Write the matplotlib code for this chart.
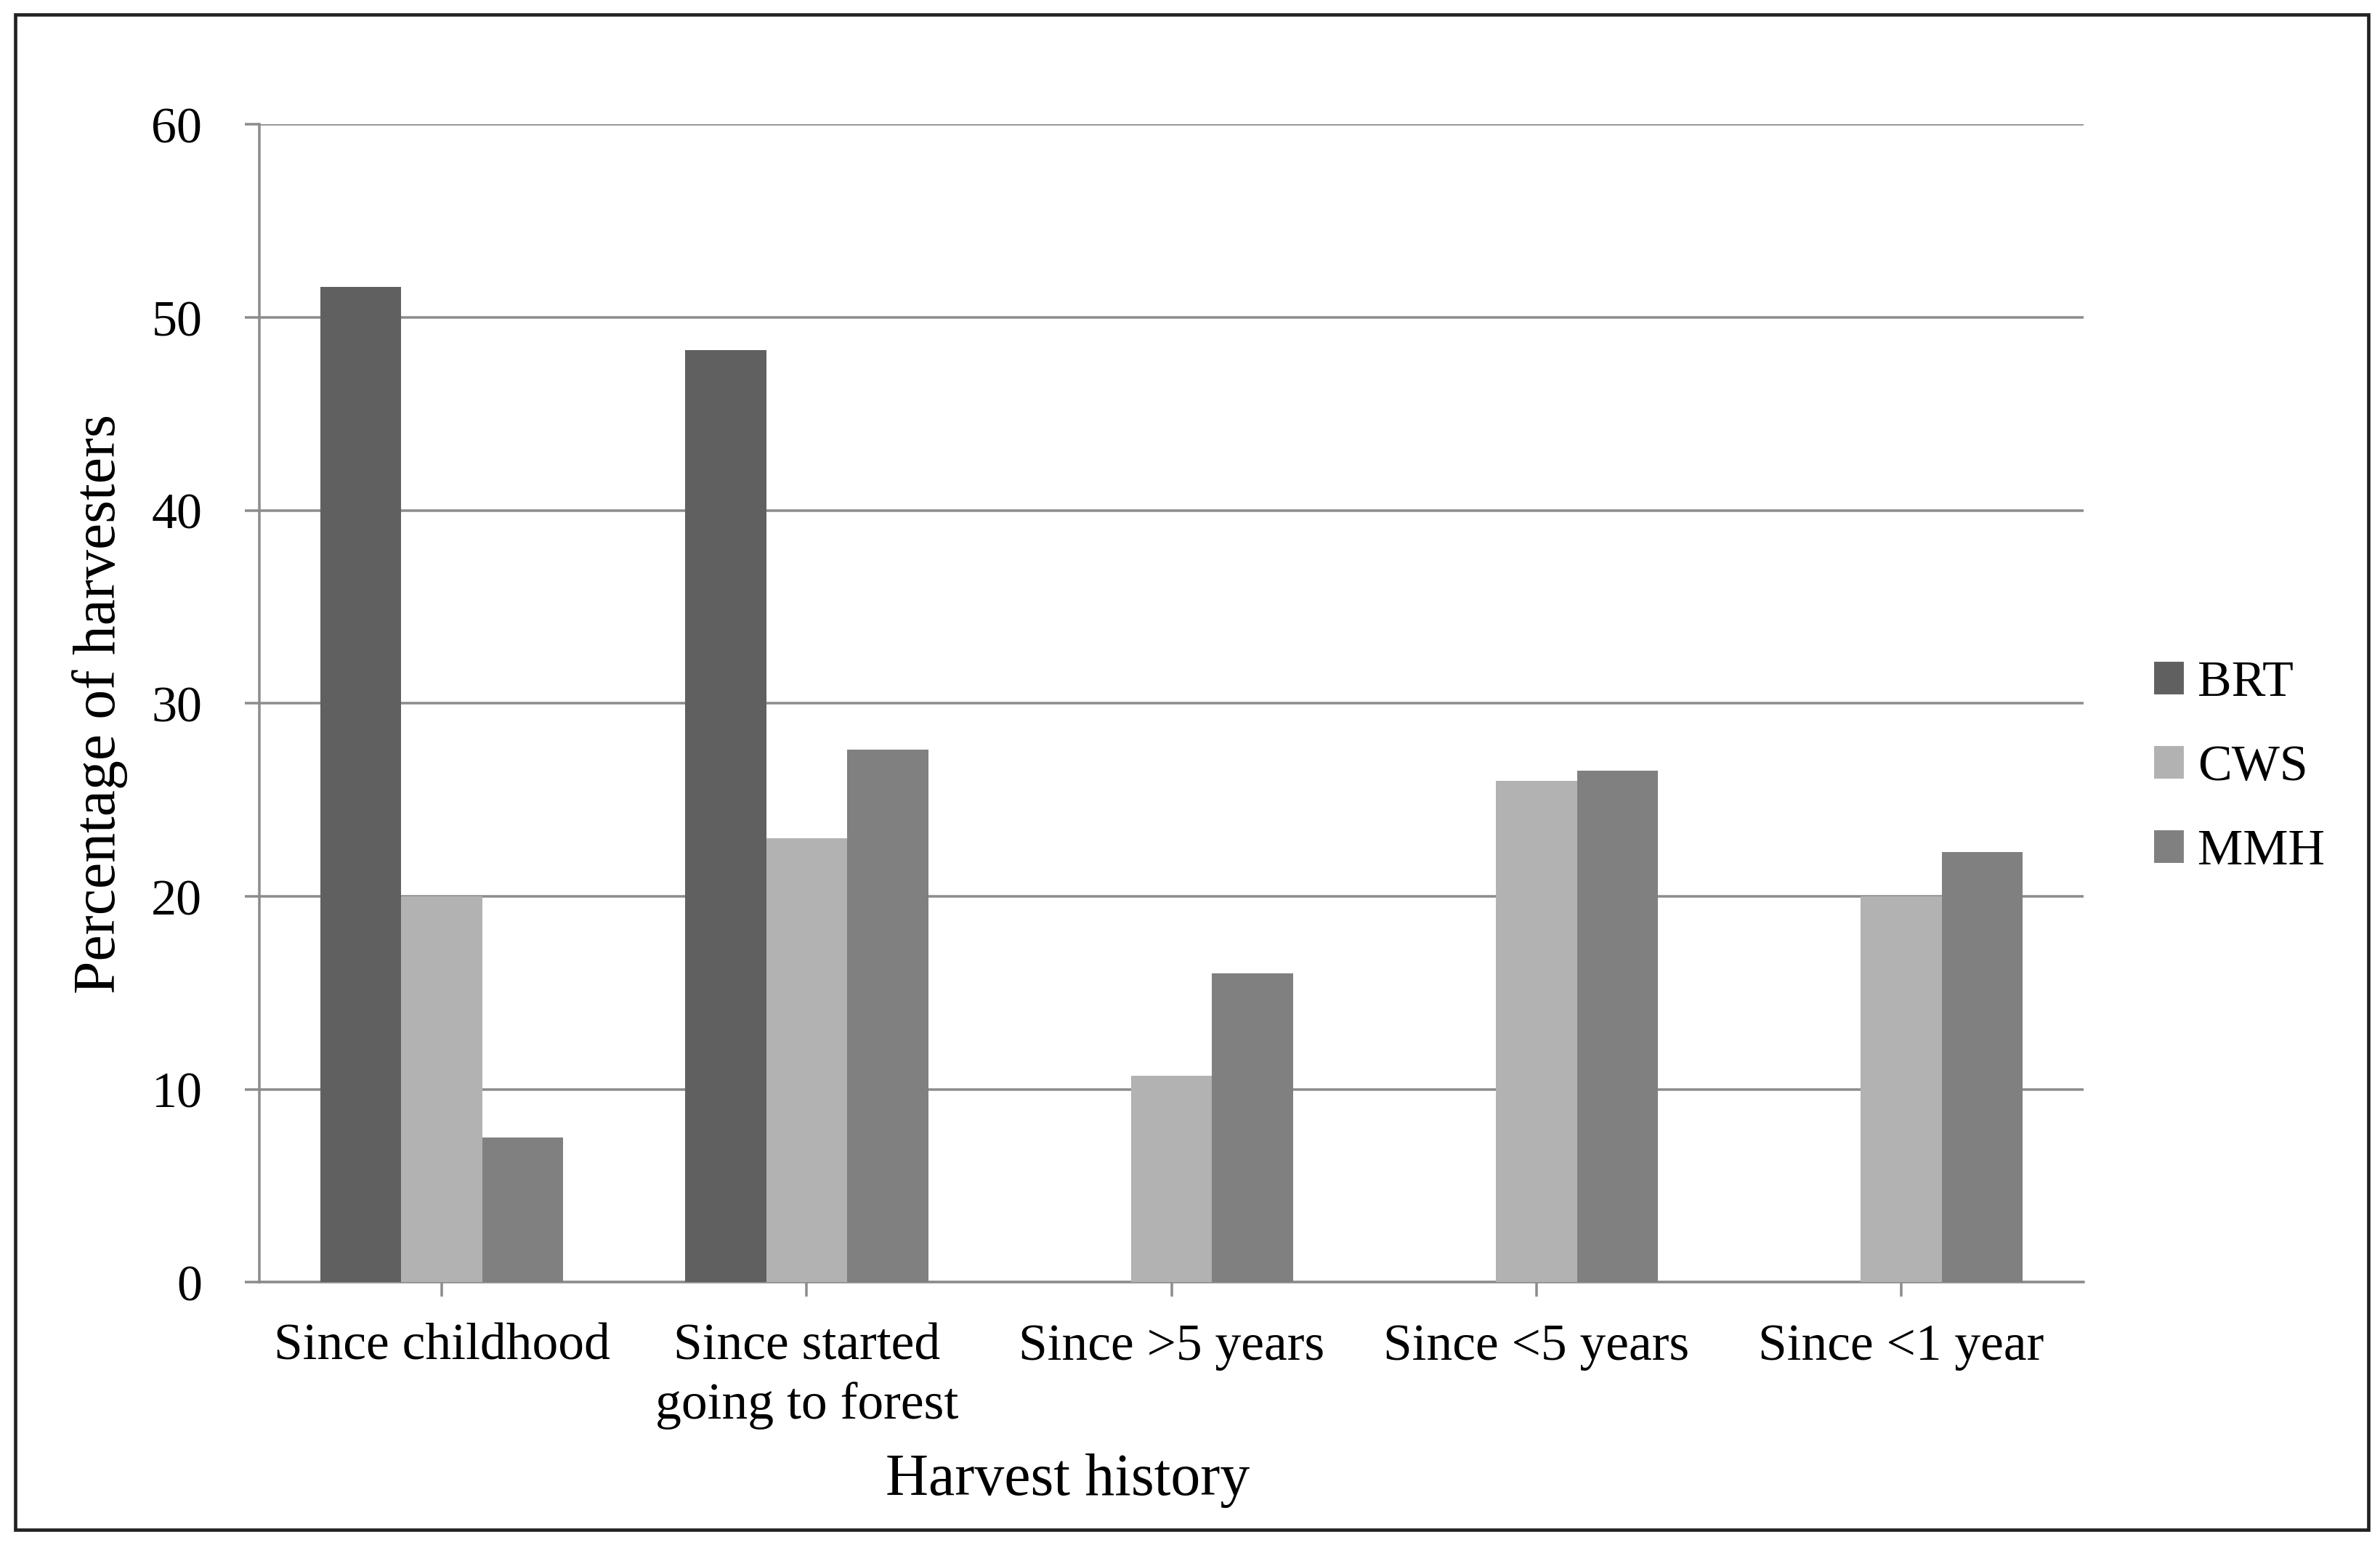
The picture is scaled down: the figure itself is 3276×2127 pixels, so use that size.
#!/usr/bin/env python3
"""
plot.py: harvest history of harvesters, grouped bars per site
"""

import numpy as np
import matplotlib
matplotlib.use("Agg")
import matplotlib.pyplot as plt
from matplotlib.patches import Rectangle, Patch

# Categories along the x axis
categories = ["Since childhood", "Since started\ngoing to forest",
              "Since >5 years", "Since <5 years", "Since <1 year"]
# Percentage of harvesters per site
brt = [51.6, 48.3, 0, 0, 0]
cws = [20.0, 23.0, 10.7, 26.0, 20.0]
mmh = [7.5, 27.6, 16.0, 26.5, 22.3]
series_names = ["BRT", "CWS", "MMH"]
yticks = [0, 10, 20, 30, 40, 50, 60]


def main():
    plt.rcParams['font.family'] = ['Liberation Serif', 'DejaVu Serif']

    fig = plt.figure(figsize=(15.6, 10.1333), dpi=210)
    ax = fig.add_axes([0.109, 0.170, 0.7665, 0.749])

    colors = ["#606060", "#b2b2b2", "#808080"]
    x = np.arange(len(categories))
    width = 0.222

    # Draw the three series, side by side
    for i, values in enumerate([brt, cws, mmh]):
        ax.bar(x + (i - 1) * width, values, width, color=colors[i],
               zorder=3, label=series_names[i])

    ax.set_xlim(-0.5, len(categories) - 0.5)
    ax.set_ylim(0, 60)
    ax.set_yticks(yticks)
    ax.set_xticks(x)
    ax.set_xticklabels(categories, fontsize=24.5, linespacing=1.3)
    ax.tick_params(axis='y', labelsize=24, length=7, width=1.2,
                   color="#8c8c8c", pad=20)
    ax.tick_params(axis='x', length=7, width=1.2, color="#8c8c8c", pad=12)

    ax.yaxis.grid(True, color="#8c8c8c", linewidth=1.2, zorder=0)
    ax.set_axisbelow(True)
    for side in ["top", "right"]:
        ax.spines[side].set_visible(False)
    for side in ["left", "bottom"]:
        ax.spines[side].set_color("#8c8c8c")
        ax.spines[side].set_linewidth(1.2)

    ax.set_xlabel("Harvest history", fontsize=28)
    ax.xaxis.set_label_coords(0.443, -0.147)
    ax.set_ylabel("Percentage of harvesters", fontsize=28)
    ax.yaxis.set_label_coords(-0.072, 0.5)

    handles = [Patch(color=c) for c in colors]
    fig.legend(handles, series_names, loc="center left",
               bbox_to_anchor=(0.886, 0.503), frameon=False, fontsize=24,
               handlelength=0.55, handleheight=0.55, handletextpad=0.3,
               labelspacing=0.75)

    # Black frame around the whole picture
    fig.patches.append(Rectangle((0.0065, 0.010), 0.9885, 0.980,
                                 transform=fig.transFigure, fill=False,
                                 edgecolor="#222222", linewidth=1.6))

    fig.savefig("out.png", dpi=210, facecolor="white")


if __name__ == "__main__":
    main()
